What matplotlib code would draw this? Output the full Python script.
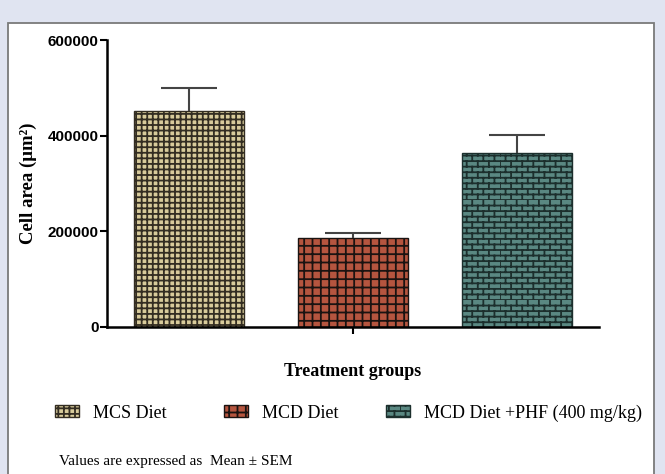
import warnings
import numpy as np
import matplotlib
matplotlib.use('Agg')
import matplotlib.pyplot as plt
import matplotlib.hatch as mhatch
from matplotlib.path import Path
from matplotlib.patches import Patch, Rectangle

warnings.filterwarnings('ignore')

groups = ['MCS Diet', 'MCD Diet', 'MCD Diet + PHF (400 mg/kg)']
legend_labels = ['MCS Diet', 'MCD Diet', 'MCD Diet +PHF (400 mg/kg)']
mean_area = [452000, 187000, 364000]
sem_area = [48000, 9000, 37000]
yticks = [0, 200000, 400000, 600000]

fills = ['#d8cb9b', '#b5553f', '#5a8882']
lines = ['#332d22', '#1a1311', '#1c2f2d']
hatches = ['+++', '++', 'bbb']


class BrickHatch(mhatch.HatchPatternBase):
    # staggered brick pattern, 'b' character
    def __init__(self, hatch, density):
        n = hatch.count('b')
        self.rows = 6 * n
        self.cols = 3 * n
        self.num_vertices = (self.rows + self.rows * self.cols) * 2 if n else 0

    def set_vertices_and_codes(self, vertices, codes):
        k = 0
        for i in range(self.rows):
            y = i / self.rows
            vertices[k] = (0, y)
            vertices[k + 1] = (1, y)
            k += 2
            for j in range(self.cols):
                x = (j + 0.5 * (i % 2)) / self.cols
                vertices[k] = (x, y)
                vertices[k + 1] = (x, y + 1 / self.rows)
                k += 2
        codes[0::2] = Path.MOVETO
        codes[1::2] = Path.LINETO


mhatch._hatch_types.append(BrickHatch)

plt.rcParams['hatch.linewidth'] = 1.3
serif = ['Liberation Serif', 'DejaVu Serif']
sans = ['Liberation Sans', 'DejaVu Sans']

fig = plt.figure(figsize=(6.65, 4.74), dpi=100)
fig.patch.set_facecolor('#e0e4f1')
fig.patches.append(Rectangle((8 / 665, -0.02), 646 / 665, 1 - 23 / 474 + 0.02,
                             transform=fig.transFigure, facecolor='white',
                             edgecolor='#7a7a7a', linewidth=1.3, zorder=-5))

ax = fig.add_axes([107 / 665, 1 - 327 / 474, 492 / 665, 287 / 474])
ax.set_facecolor('none')

x = np.arange(len(groups))
bars = ax.bar(x, mean_area, width=0.67, color=fills, edgecolor=lines,
              linewidth=1.0, zorder=2)
for b, h in zip(bars, hatches):
    b.set_hatch(h)

eb = ax.errorbar(x, mean_area, yerr=[np.zeros(len(x)), sem_area], fmt='none',
                 ecolor='#444444', elinewidth=1.5, capsize=20, capthick=1.5, zorder=3)
# only the upper cap is drawn in the original
eb[1][0].set_visible(False)

ax.set_xlim(-0.5, 2.5)
ax.set_ylim(0, 600000)
ax.set_yticks(yticks)
ax.set_yticklabels([str(v) for v in yticks], fontfamily=sans, fontweight='bold',
                   fontsize=11)
ax.set_xticks([1])
ax.set_xticklabels([''])
ax.tick_params(axis='both', direction='out', length=5, width=1.5, pad=1)
for s in ['top', 'right']:
    ax.spines[s].set_visible(False)
for s in ['left', 'bottom']:
    ax.spines[s].set_linewidth(1.8)

ax.set_ylabel('Cell area (μm²)', fontfamily=serif, fontweight='bold',
              fontsize=13.5, labelpad=8)
fig.text(353 / 665, 1 - 372 / 474, 'Treatment groups', fontfamily=serif,
         fontweight='bold', fontsize=13, ha='center', va='center')

x_leg = [55, 224, 386]
for i in range(3):
    h = Patch(facecolor=fills[i], edgecolor=lines[i], hatch=hatches[i], linewidth=1.0)
    fig.legend(handles=[h], labels=[legend_labels[i]], loc='center left',
               bbox_to_anchor=(x_leg[i] / 665, 1 - 413 / 474), frameon=False,
               prop={'family': serif, 'size': 13}, handlelength=1.33,
               handleheight=0.66, handletextpad=0.75, borderpad=0,
               borderaxespad=0)

fig.text(59 / 665, 1 - 461 / 474, 'Values are expressed as  Mean ± SEM',
         fontfamily=serif, fontsize=11, va='center')

fig.savefig('out.png', dpi=100, facecolor=fig.get_facecolor())
